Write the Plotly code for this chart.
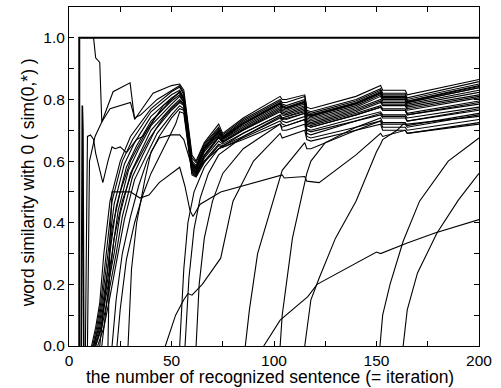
import plotly.graph_objects as go

# ---- data (x = iteration, y = similarity) ----
self_x = [5, 5, 200]
self_y = [0.0, 1.0, 1.0]

fall_x = [6.5, 12, 13, 15, 16, 21.5, 29.8, 32, 41, 50, 54, 56, 60, 62, 66, 73, 75, 85, 103, 104, 106, 115, 116, 118, 140, 152, 153, 164, 165, 200]
fall_y = [1.0, 1.0, 0.935, 0.92, 0.727, 0.825, 0.854, 0.735, 0.82, 0.845, 0.85, 0.83, 0.62, 0.60, 0.66, 0.72, 0.69, 0.74, 0.81, 0.80, 0.80, 0.815, 0.775, 0.77, 0.81, 0.845, 0.83, 0.83, 0.815, 0.865]

spike_x = [6, 6.5, 6.8, 7.2]
spike_y = [0.0, 0.78, 0.70, 0.0]

t2_x = [9, 10, 12.7, 16, 20, 30, 32, 35, 43, 50, 54, 56, 60, 62, 66, 73, 75, 85, 103, 104, 106, 115, 116, 118, 140, 152, 153, 164, 165, 200]
t2_y = [0.0, 0.6, 0.68, 0.727, 0.77, 0.79, 0.74, 0.75, 0.80, 0.83, 0.845, 0.82, 0.61, 0.595, 0.655, 0.71, 0.685, 0.735, 0.80, 0.79, 0.79, 0.81, 0.765, 0.76, 0.80, 0.835, 0.82, 0.82, 0.805, 0.858]

zig_x = [8, 9, 10.5, 12, 13, 15, 16.5, 19, 21, 22.5, 25, 28, 30, 33, 36, 42, 50, 54, 56, 60, 62, 66, 73, 75, 85, 103, 104, 106, 115, 116, 118, 140, 152, 153, 164, 165, 200]
zig_y = [0.0, 0.68, 0.685, 0.67, 0.626, 0.57, 0.53, 0.60, 0.646, 0.64, 0.646, 0.627, 0.643, 0.67, 0.68, 0.74, 0.80, 0.825, 0.80, 0.59, 0.575, 0.64, 0.695, 0.675, 0.72, 0.785, 0.775, 0.77, 0.79, 0.75, 0.745, 0.785, 0.82, 0.805, 0.805, 0.79, 0.838]

b1_x = [11, 13, 15, 17, 20, 25, 30, 40, 50, 54, 56, 60, 62, 66, 73, 75, 85, 103, 104, 106, 115, 116, 118, 140, 152, 153, 164, 165, 200]
b1_y = [0.0, 0.06, 0.14, 0.30, 0.47, 0.60, 0.68, 0.77, 0.825, 0.84, 0.815, 0.60, 0.585, 0.65, 0.705, 0.68, 0.73, 0.795, 0.785, 0.78, 0.80, 0.76, 0.755, 0.795, 0.83, 0.815, 0.815, 0.80, 0.85]

b2_x = [11.5, 13.5, 15.5, 18, 21, 26, 31, 40, 50, 54, 56, 60, 62, 66, 73, 75, 85, 103, 104, 106, 115, 116, 118, 140, 152, 153, 164, 165, 200]
b2_y = [0.0, 0.06, 0.14, 0.30, 0.47, 0.60, 0.67, 0.76, 0.815, 0.83, 0.805, 0.595, 0.58, 0.645, 0.70, 0.678, 0.725, 0.79, 0.78, 0.775, 0.795, 0.755, 0.75, 0.79, 0.825, 0.81, 0.81, 0.795, 0.845]

b3_x = [12, 14, 16, 19, 22, 27, 32, 40, 50, 54, 56, 60, 62, 66, 73, 75, 85, 103, 104, 106, 115, 116, 118, 140, 152, 153, 164, 165, 200]
b3_y = [0.0, 0.06, 0.14, 0.30, 0.46, 0.59, 0.66, 0.745, 0.805, 0.822, 0.80, 0.59, 0.575, 0.64, 0.695, 0.675, 0.72, 0.785, 0.775, 0.77, 0.79, 0.75, 0.745, 0.785, 0.82, 0.805, 0.805, 0.79, 0.838]

b4_x = [12, 14.5, 17, 20, 23, 28, 33, 40, 50, 54, 56, 60, 62, 66, 73, 75, 85, 103, 104, 106, 115, 116, 118, 140, 152, 153, 164, 165, 200]
b4_y = [0.0, 0.06, 0.16, 0.30, 0.45, 0.58, 0.65, 0.73, 0.795, 0.815, 0.795, 0.585, 0.57, 0.635, 0.69, 0.672, 0.715, 0.78, 0.77, 0.765, 0.785, 0.745, 0.74, 0.78, 0.815, 0.80, 0.80, 0.785, 0.83]

b5_x = [12.5, 15, 17.5, 21, 24, 29, 34, 40, 50, 54, 56, 60, 62, 66, 73, 75, 85, 103, 104, 106, 115, 116, 118, 140, 152, 153, 164, 165, 200]
b5_y = [0.0, 0.06, 0.16, 0.30, 0.44, 0.57, 0.64, 0.715, 0.785, 0.81, 0.79, 0.58, 0.565, 0.63, 0.685, 0.67, 0.71, 0.775, 0.765, 0.76, 0.78, 0.74, 0.735, 0.775, 0.81, 0.795, 0.795, 0.78, 0.823]

b6_x = [13, 15.5, 18, 22, 25, 30, 35, 40, 50, 54, 56, 60, 62, 66, 73, 75, 85, 103, 104, 106, 115, 116, 118, 140, 152, 153, 164, 165, 200]
b6_y = [0.0, 0.06, 0.16, 0.30, 0.43, 0.56, 0.63, 0.70, 0.775, 0.80, 0.785, 0.575, 0.56, 0.62, 0.68, 0.665, 0.705, 0.77, 0.76, 0.755, 0.775, 0.735, 0.73, 0.77, 0.80, 0.79, 0.79, 0.775, 0.815]

b7_x = [13, 16, 19, 23, 26, 31, 36, 42, 50, 54, 56, 60, 62, 66, 73, 75, 85, 103, 104, 106, 115, 116, 118, 140, 152, 153, 164, 165, 200]
b7_y = [0.0, 0.06, 0.16, 0.30, 0.42, 0.55, 0.62, 0.70, 0.765, 0.79, 0.78, 0.57, 0.556, 0.615, 0.675, 0.66, 0.70, 0.76, 0.75, 0.745, 0.765, 0.725, 0.72, 0.76, 0.79, 0.78, 0.78, 0.765, 0.805]

b8_x = [14, 17, 20, 24, 27, 32, 37, 43, 50, 54, 56, 60, 62, 66, 73, 75, 85, 103, 104, 106, 115, 116, 118, 140, 152, 153, 164, 165, 200]
b8_y = [0.0, 0.06, 0.16, 0.30, 0.41, 0.54, 0.61, 0.69, 0.75, 0.78, 0.77, 0.565, 0.553, 0.61, 0.665, 0.655, 0.69, 0.75, 0.74, 0.735, 0.755, 0.715, 0.71, 0.75, 0.775, 0.765, 0.765, 0.75, 0.79]

b9_x = [21, 23, 26, 30, 34, 38, 44, 50, 54, 56, 60, 62, 66, 73, 75, 85, 103, 104, 106, 115, 116, 118, 140, 152, 153, 164, 165, 200]
b9_y = [0.0, 0.15, 0.30, 0.42, 0.52, 0.60, 0.68, 0.74, 0.77, 0.765, 0.56, 0.55, 0.60, 0.655, 0.65, 0.68, 0.74, 0.73, 0.725, 0.745, 0.705, 0.70, 0.74, 0.76, 0.75, 0.75, 0.74, 0.775]

b10_x = [23.4, 25, 28, 32, 36, 40, 46, 52, 54, 56, 60, 62, 66, 73, 75, 85, 103, 104, 106, 115, 116, 118, 140, 152, 153, 164, 165, 200]
b10_y = [0.0, 0.12, 0.28, 0.40, 0.49, 0.56, 0.64, 0.72, 0.76, 0.755, 0.555, 0.548, 0.595, 0.65, 0.645, 0.675, 0.73, 0.72, 0.715, 0.735, 0.70, 0.695, 0.73, 0.75, 0.74, 0.74, 0.73, 0.765]

b11_x = [15, 18, 21, 25, 30, 38, 46, 50, 54, 56, 60, 62, 66, 73, 75, 85, 103, 104, 106, 115, 116, 118, 140, 152, 153, 164, 165, 200]
b11_y = [0.0, 0.20, 0.38, 0.50, 0.60, 0.70, 0.78, 0.80, 0.825, 0.805, 0.592, 0.578, 0.642, 0.698, 0.676, 0.722, 0.788, 0.778, 0.773, 0.792, 0.752, 0.748, 0.788, 0.822, 0.808, 0.808, 0.793, 0.842]

b12_x = [16, 19, 22, 26, 31, 39, 46, 50, 54, 56, 60, 62, 66, 73, 75, 85, 103, 104, 106, 115, 116, 118, 140, 152, 153, 164, 165, 200]
b12_y = [0.0, 0.18, 0.35, 0.47, 0.57, 0.67, 0.74, 0.77, 0.795, 0.785, 0.572, 0.558, 0.618, 0.678, 0.662, 0.702, 0.765, 0.755, 0.75, 0.77, 0.73, 0.725, 0.765, 0.795, 0.785, 0.785, 0.77, 0.81]

low1_x = [28.8, 30.5, 33, 37, 40, 44, 50, 54, 56, 60, 62, 66, 73, 85, 103, 104, 106, 115, 116, 118, 140, 152, 153, 164, 165, 200]
low1_y = [0.0, 0.25, 0.40, 0.54, 0.63, 0.675, 0.685, 0.685, 0.67, 0.58, 0.565, 0.60, 0.64, 0.67, 0.72, 0.70, 0.70, 0.72, 0.68, 0.675, 0.71, 0.73, 0.71, 0.71, 0.70, 0.735]

plat_x = [19, 20, 21, 30, 34.6, 39, 44, 54, 56.5, 59, 60.5, 64, 74, 98, 104, 105, 115, 116, 122, 140, 152, 153, 164, 165, 200]
plat_y = [0.0, 0.35, 0.50, 0.50, 0.48, 0.49, 0.53, 0.58, 0.52, 0.44, 0.42, 0.46, 0.50, 0.545, 0.555, 0.545, 0.55, 0.535, 0.53, 0.62, 0.69, 0.68, 0.70, 0.69, 0.725]

midA_x = [47, 52, 56, 58, 60, 65, 74, 77, 80, 90, 103, 104, 115, 116, 118, 140, 152, 153, 164, 165, 200]
midA_y = [0.0, 0.10, 0.15, 0.17, 0.165, 0.20, 0.285, 0.38, 0.47, 0.60, 0.69, 0.675, 0.70, 0.67, 0.665, 0.70, 0.72, 0.70, 0.70, 0.69, 0.72]

m1_x = [54, 56, 58, 61, 66, 73, 85, 103, 104, 115, 116, 118, 140, 152, 153, 164, 165, 200]
m1_y = [0.0, 0.25, 0.40, 0.50, 0.58, 0.64, 0.69, 0.75, 0.74, 0.76, 0.72, 0.715, 0.755, 0.78, 0.77, 0.77, 0.755, 0.795]

m2_x = [56.6, 58.5, 61, 64, 68, 73, 85, 103, 104, 115, 116, 118, 140, 152, 153, 164, 165, 200]
m2_y = [0.0, 0.22, 0.38, 0.48, 0.56, 0.62, 0.68, 0.745, 0.735, 0.755, 0.715, 0.71, 0.75, 0.775, 0.765, 0.765, 0.75, 0.785]

m3_x = [62, 63.5, 66, 70, 75, 85, 103, 104, 115, 116, 118, 140, 152, 153, 164, 165, 200]
m3_y = [0.0, 0.20, 0.35, 0.47, 0.56, 0.64, 0.72, 0.71, 0.735, 0.69, 0.685, 0.73, 0.755, 0.745, 0.745, 0.73, 0.77]

r1_x = [86, 88, 92, 99.5, 104, 115, 116, 118, 140, 152, 153, 164, 165, 200]
r1_y = [0.0, 0.117, 0.30, 0.474, 0.57, 0.66, 0.64, 0.64, 0.70, 0.73, 0.72, 0.72, 0.71, 0.75]

r2_x = [103, 104, 106, 109, 113, 116, 118, 125, 140, 152, 153, 164, 165, 200]
r2_y = [0.0, 0.10, 0.20, 0.35, 0.47, 0.56, 0.60, 0.66, 0.71, 0.74, 0.725, 0.725, 0.715, 0.755]

r3_x = [115, 118, 122, 130, 140, 150, 152, 153, 160, 163, 165, 200]
r3_y = [0.0, 0.15, 0.22, 0.35, 0.47, 0.63, 0.655, 0.67, 0.70, 0.72, 0.72, 0.745]

slow_x = [95, 103, 116.5, 121, 150, 152, 165, 178.5, 200]
slow_y = [0.0, 0.084, 0.16, 0.20, 0.305, 0.30, 0.334, 0.367, 0.41]

d_x = [151.7, 153, 156.6, 163, 171, 185, 200]
d_y = [0.0, 0.10, 0.20, 0.34, 0.47, 0.60, 0.675]

e_x = [163, 165, 170, 179.5, 190, 200]
e_y = [0.0, 0.117, 0.237, 0.367, 0.474, 0.56]

series = [
    (self_x, self_y, 2.0),
    (spike_x, spike_y, 1.6),
    (fall_x, fall_y, 1.1), (t2_x, t2_y, 1.1), (zig_x, zig_y, 1.1),
    (b1_x, b1_y, 1.1), (b2_x, b2_y, 1.1), (b3_x, b3_y, 1.1), (b4_x, b4_y, 1.1),
    (b5_x, b5_y, 1.1), (b6_x, b6_y, 1.1), (b7_x, b7_y, 1.1), (b8_x, b8_y, 1.1),
    (b9_x, b9_y, 1.1), (b10_x, b10_y, 1.1), (b11_x, b11_y, 1.1), (b12_x, b12_y, 1.1),
    (low1_x, low1_y, 1.1),
    (plat_x, plat_y, 1.1), (midA_x, midA_y, 1.1),
    (m1_x, m1_y, 1.1), (m2_x, m2_y, 1.1), (m3_x, m3_y, 1.1),
    (r1_x, r1_y, 1.1), (r2_x, r2_y, 1.1), (r3_x, r3_y, 1.1),
    (slow_x, slow_y, 1.1), (d_x, d_y, 1.1), (e_x, e_y, 1.1),
]

x_tick_vals = [0, 25, 50, 75, 100, 125, 150, 175, 200]
x_tick_text = ["0", "", "50", "", "100", "", "150", "", "200"]
y_tick_vals = [0.0, 0.1, 0.2, 0.3, 0.4, 0.5, 0.6, 0.7, 0.8, 0.9, 1.0]
y_tick_text = ["0.0", "", "0.2", "", "0.4", "", "0.6", "", "0.8", "", "1.0"]
x_title = "the number of recognized sentence (= iteration)"
y_title = "word similarity with 0 ( sim(0,*) )"

fig = go.Figure()
for xs, ys, w in series:
    fig.add_trace(go.Scatter(x=xs, y=ys, mode="lines",
                             line=dict(color="black", width=w),
                             showlegend=False, hoverinfo="skip"))

font_family = "Liberation Sans, Arial, sans-serif"
fig.update_layout(
    width=501, height=388,
    margin=dict(l=69, r=22, t=7, b=42),
    paper_bgcolor="white", plot_bgcolor="white",
    font=dict(family=font_family, size=15.5, color="black"),
    xaxis=dict(range=[0, 200], tickvals=x_tick_vals, ticktext=x_tick_text,
               ticks="inside", ticklen=5, tickwidth=1, tickcolor="black",
               showline=True, linecolor="black", linewidth=1, mirror="ticks",
               showgrid=False, zeroline=False, automargin=False,
               tickfont=dict(size=15.5)),
    yaxis=dict(range=[0, 1.1], tickvals=y_tick_vals, ticktext=y_tick_text,
               ticks="inside", ticklen=5, tickwidth=1, tickcolor="black",
               showline=True, linecolor="black", linewidth=1, mirror="ticks",
               showgrid=False, zeroline=False, automargin=False,
               tickfont=dict(size=15.5)),
    annotations=[
        dict(text=x_title, xref="paper", yref="paper", x=0.49, y=-0.0914,
             xanchor="center", yanchor="middle", showarrow=False,
             font=dict(size=17.5)),
        dict(text=y_title, xref="paper", yref="paper", x=-0.1, y=0.48,
             xanchor="center", yanchor="middle", textangle=-90, showarrow=False,
             font=dict(size=17.5)),
    ],
)

fig.write_html("out.html", config={"displayModeBar": False},
               post_script="document.body.style.margin='0px';")
